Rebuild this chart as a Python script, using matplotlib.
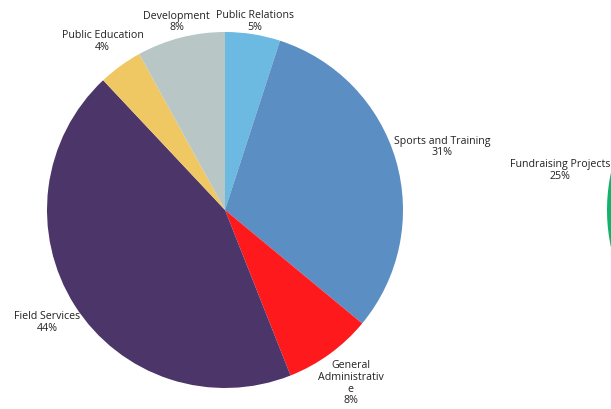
import numpy as np
import matplotlib
matplotlib.use("Agg")
from matplotlib import pyplot as plt

# expenses pie (clockwise from 12 o'clock)
labels = ["Public Relations", "Sports and Training", "General\nAdministrativ\ne",
          "Field Services", "Public Education", "Development"]
values = [5, 31, 8, 44, 4, 8]
colors = ["#6cb9e1", "#5b8ec3", "#fe1a1c", "#4b3569", "#f0c863", "#b9c6c6"]

# second pie, only its left edge is in view
labels2 = ["Fundraising Projects"]
values2 = [25]
colors2 = ["#0db46a"]

W, H = 611, 409
fig = plt.figure(figsize=(W / 100, H / 100), dpi=100)
ax = fig.add_axes([0, 0, 1, 1])

R = 178
C1 = (225, H - 210)
C2 = (785, H - 210)

w1, _ = ax.pie(values, colors=colors, startangle=90, counterclock=False,
               radius=R, center=C1, wedgeprops=dict(linewidth=0))
# rest of the second pie is off-canvas: leave it empty
w2, _ = ax.pie(values2 + [100 - sum(values2)], colors=colors2 + ["none"],
               startangle=215, counterclock=False, radius=R, center=C2,
               wedgeprops=dict(linewidth=0))

ax.set_xlim(0, W)
ax.set_ylim(0, H)
ax.set_aspect("equal")
ax.axis("off")

font = dict(family=["Open Sans", "DejaVu Sans"], size=7.7, color="#222222")


def nearest(cx, cy, hw, hh):
    # distance from pie centre to the closest point of a label box
    x = 0 if abs(cx) <= hw else abs(cx) - hw
    y = 0 if abs(cy) <= hh else abs(cy) - hh
    return np.hypot(x, y)


def put_labels(wedges, names, vals, center):
    texts = []
    for w, n, v in zip(wedges, names, vals):
        ang = np.deg2rad((w.theta1 + w.theta2) / 2)
        dx, dy = np.cos(ang), np.sin(ang)
        t = ax.text(0, 0, f"{n}\n{v}%", ha="center", va="center",
                    multialignment="center", linespacing=1.1, **font)
        texts.append((t, dx, dy))
    fig.canvas.draw()
    rend = fig.canvas.get_renderer()
    for t, dx, dy in texts:
        bb = t.get_window_extent(rend)
        hw, hh = bb.width / 2 - 2, bb.height / 2 - 2
        d = R
        while nearest(d * dx, d * dy, hw, hh) < R + 1:
            d += 0.5
        t.set_position((center[0] + d * dx, center[1] + d * dy))


put_labels(w1, labels, values, C1)
put_labels(w2[:1], labels2, values2, C2)

fig.savefig("out.png", dpi=100, facecolor="white")
